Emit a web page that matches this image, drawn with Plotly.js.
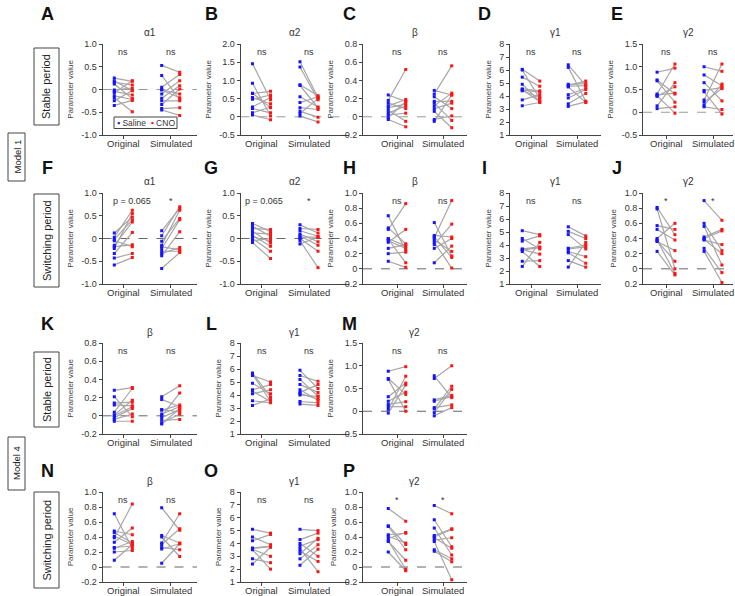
<!DOCTYPE html>
<html>
<head>
<meta charset="utf-8">
<script src="https://cdn.plot.ly/plotly-3.0.1.min.js"></script>
<style>
  body { margin: 0; background: #fff; }
  #chart { width: 735px; height: 596px; }
</style>
</head>
<body>
<div id="chart"></div>
<script>
// pary [saline, CNO] dla kazdego zwierzecia
const A_orig = [[0.25, 0.18], [0.19, -0.03], [0.16, 0.10], [0.12, -0.20], [-0.01, 0.03], [-0.04, -0.12], [-0.07, 0.19], [-0.14, -0.22], [-0.18, -0.49], [-0.25, -0.02], [-0.35, -0.24]];
const A_sim = [[0.53, 0.38], [0.31, -0.22], [0.05, 0.33], [-0.01, -0.18], [-0.10, 0.19], [-0.19, 0.08], [-0.25, -0.25], [-0.33, 0.01], [-0.42, -0.40], [-0.45, -0.57], [0.0, -0.10]];
const B_orig = [[1.46, 0.47], [0.92, 0.02], [0.64, 0.70], [0.53, 0.36], [0.48, 0.60], [0.27, 0.53], [0.23, 0.11], [0.11, 0.27], [0.05, -0.08], [0.65, 0.25]];
const B_sim = [[1.51, 0.53], [1.37, 0.47], [0.88, 0.58], [0.86, 0.25], [0.39, 0.55], [0.25, 0.20], [0.09, 0.50], [0.02, -0.14], [0.15, -0.01], [0.55, 0.27]];
const C_orig = [[0.24, 0.17], [0.18, 0.52], [0.15, 0.09], [0.12, 0.19], [0.10, 0.14], [0.07, -0.05], [0.04, 0.12], [0.02, 0.04], [-0.01, 0.17], [-0.03, -0.11]];
const C_sim = [[0.29, 0.24], [0.25, 0.56], [0.22, 0.09], [0.17, 0.17], [0.15, -0.04], [0.12, 0.26], [0.09, 0.15], [0.06, -0.12], [-0.03, 0.01], [-0.05, 0.24]];
const D_orig = [[6.05, 5.15], [6.0, 3.8], [5.45, 4.75], [4.9, 3.6], [4.55, 4.4], [4.45, 4.3], [4.4, 3.9], [3.7, 4.1], [3.25, 3.5], [4.5, 3.55]];
const D_sim = [[6.4, 4.8], [6.2, 3.6], [4.9, 4.95], [4.8, 5.15], [4.7, 3.5], [4.1, 4.6], [3.85, 4.5], [3.4, 4.2], [3.2, 3.55], [4.75, 4.8]];
const E_orig = [[0.88, 0.97], [0.71, 0.40], [0.69, 0.22], [0.40, 1.06], [0.38, 0.42], [0.35, 0.56], [0.14, 0.65], [0.08, 0.12], [0.36, -0.02]];
const E_sim = [[1.0, 0.90], [0.82, 0.58], [0.65, 0.25], [0.48, 0.54], [0.45, -0.04], [0.27, 1.06], [0.22, 0.52], [0.15, 0.62], [0.12, 0.06]];
const F_orig = [[0.12, 0.47], [0.03, 0.62], [-0.02, 0.41], [-0.05, -0.18], [-0.15, 0.36], [-0.18, -0.14], [-0.22, 0.55], [-0.33, 0.13], [-0.43, -0.33], [-0.58, -0.42]];
const F_sim = [[0.17, 0.66], [0.06, 0.70], [-0.06, 0.44], [-0.15, 0.62], [-0.18, -0.25], [-0.22, 0.41], [-0.28, -0.28], [-0.33, -0.20], [-0.38, 0.15], [-0.66, -0.31]];
const G_orig = [[0.33, 0.15], [0.27, 0.05], [0.22, 0.20], [0.16, -0.10], [0.12, 0.10], [0.07, -0.17], [0.03, -0.05], [0.0, -0.28], [-0.05, 0.0], [-0.09, -0.44]];
const G_sim = [[0.30, 0.12], [0.22, 0.20], [0.17, 0.05], [0.10, -0.07], [0.06, -0.15], [0.03, 0.03], [0.0, -0.28], [-0.05, -0.64], [-0.12, 0.03]];
const H_orig = [[0.70, 0.24], [0.54, 0.33], [0.52, 0.86], [0.39, 0.08], [0.37, 0.27], [0.35, 0.52], [0.27, 0.32], [0.20, 0.22], [0.10, 0.02], [0.40, 0.30]];
const H_sim = [[0.61, 0.17], [0.44, 0.42], [0.41, 0.90], [0.38, 0.23], [0.32, 0.59], [0.27, 0.40], [0.08, 0.30], [0.35, 0.01], [0.42, 0.15]];
const I_orig = [[5.1, 4.8], [4.5, 3.7], [4.3, 4.7], [3.7, 3.85], [3.6, 3.8], [3.5, 2.35], [2.75, 2.8], [2.35, 4.2], [3.65, 3.3]];
const I_sim = [[5.4, 4.7], [5.05, 4.5], [4.8, 3.7], [3.75, 4.0], [3.7, 3.85], [3.4, 2.6], [2.8, 2.3], [2.3, 4.2], [3.5, 3.1]];
const J_orig = [[0.81, 0.45], [0.79, 0.0], [0.57, 0.52], [0.52, 0.38], [0.40, 0.60], [0.38, -0.06], [0.36, 0.24], [0.23, -0.08], [0.37, 0.10]];
const J_sim = [[0.90, 0.64], [0.60, 0.24], [0.56, 0.05], [0.42, 0.52], [0.40, 0.50], [0.38, 0.32], [0.27, -0.05], [0.23, -0.18], [0.39, 0.20]];
const K_orig = [[0.28, 0.31], [0.21, -0.01], [0.14, 0.15], [0.12, 0.11], [0.04, 0.30], [0.01, 0.17], [-0.02, 0.08], [-0.04, 0.02], [-0.06, -0.06], [0.0, 0.10]];
const K_sim = [[0.21, 0.33], [0.18, 0.10], [0.07, 0.04], [0.06, 0.12], [0.0, 0.25], [-0.02, 0.07], [-0.05, -0.04], [-0.08, 0.02], [-0.09, 0.08], [0.02, 0.10]];
const L_orig = [[5.7, 3.85], [5.5, 5.0], [4.9, 4.1], [4.4, 4.8], [4.3, 3.5], [4.1, 4.4], [3.55, 3.4], [3.2, 3.7], [5.6, 3.5]];
const L_sim = [[5.9, 4.5], [5.5, 5.05], [5.2, 3.9], [4.8, 4.2], [4.4, 3.6], [4.2, 4.8], [4.1, 3.7], [3.5, 3.4], [3.3, 3.2], [4.0, 3.9]];
const M_orig = [[0.88, 0.98], [0.72, 0.37], [0.70, 0.0], [0.32, 0.62], [0.22, 0.42], [0.15, 0.21], [0.10, 0.10], [0.04, 0.77], [-0.04, 0.58]];
const M_sim = [[0.78, 0.30], [0.72, 1.0], [0.25, 0.35], [0.22, 0.32], [0.08, 0.14], [0.05, 0.55], [-0.03, 0.48], [-0.10, 0.08]];
const N_orig = [[0.71, 0.25], [0.48, 0.43], [0.46, 0.32], [0.41, 0.30], [0.39, 0.84], [0.33, 0.52], [0.26, 0.28], [0.25, 0.34], [0.20, 0.22], [0.09, 0.30]];
const N_sim = [[0.79, 0.49], [0.42, 0.32], [0.40, 0.14], [0.32, 0.71], [0.30, 0.51], [0.26, 0.23], [0.24, 0.31], [0.05, 0.31]];
const O_orig = [[5.1, 4.8], [4.5, 3.9], [4.2, 4.7], [3.65, 3.8], [3.6, 3.75], [3.5, 2.0], [2.8, 2.5], [2.4, 3.7], [3.55, 3.0]];
const O_sim = [[5.1, 5.0], [4.3, 4.8], [4.0, 3.0], [3.8, 4.3], [3.6, 1.8], [3.2, 4.4], [2.8, 3.9], [2.3, 3.55], [3.4, 2.6]];
const P_orig = [[0.78, 0.61], [0.55, 0.30], [0.54, 0.23], [0.43, 0.45], [0.41, 0.32], [0.38, 0.46], [0.35, -0.03], [0.34, 0.09], [0.20, -0.05]];
const P_sim = [[0.82, 0.71], [0.63, 0.27], [0.52, 0.16], [0.42, 0.51], [0.40, 0.50], [0.36, 0.39], [0.34, -0.17], [0.23, 0.11], [0.21, 0.07], [0.39, 0.25]];

const groups = ['Original', 'Simulated'];

// wartosci i etykiety osi Y
const tkA1 = [-1, -0.5, 0, 0.5, 1];
const lbA1 = ['-1.0', '-0.5', '0', '0.5', '1.0'];
const tkA2 = [-0.5, 0, 0.5, 1, 1.5, 2];
const lbA2 = ['-0.5', '0', '0.5', '1.0', '1.5', '2.0'];
const tkB8 = [-0.2, 0, 0.2, 0.4, 0.6, 0.8];
const lbB8 = ['-0.2', '0', '0.2', '0.4', '0.6', '0.8'];
const tkB10 = [-0.2, 0, 0.2, 0.4, 0.6, 0.8, 1.0];
const lbB10 = ['-0.2', '0', '0.2', '0.4', '0.6', '0.8', '1.0'];
const lbG2sw = ['0.2', '0', '0.2', '0.4', '0.6', '0.8', '1.0'];
const tkG1 = [1, 2, 3, 4, 5, 6, 7, 8];
const lbG1 = ['1', '2', '3', '4', '5', '6', '7', '8'];
const tkG2 = [-0.5, 0, 0.5, 1, 1.5];
const lbG2 = ['-0.5', '0', '0.5', '1.0', '1.5'];

const panels = [
  { id: 'A', row: 0, col: 0, title: 'α1', orig: A_orig, sim: A_sim, tv: tkA1, tt: lbA1, marks: ['ns', 'ns'] },
  { id: 'B', row: 0, col: 1, title: 'α2', orig: B_orig, sim: B_sim, tv: tkA2, tt: lbA2, marks: ['ns', 'ns'] },
  { id: 'C', row: 0, col: 2, title: 'β', orig: C_orig, sim: C_sim, tv: tkB8, tt: lbB8, marks: ['ns', 'ns'] },
  { id: 'D', row: 0, col: 3, title: 'γ1', orig: D_orig, sim: D_sim, tv: tkG1, tt: lbG1, marks: ['ns', 'ns'] },
  { id: 'E', row: 0, col: 4, title: 'γ2', orig: E_orig, sim: E_sim, tv: tkG2, tt: lbG2, marks: ['ns', 'ns'] },
  { id: 'F', row: 1, col: 0, title: 'α1', orig: F_orig, sim: F_sim, tv: tkA1, tt: lbA1, marks: ['p = 0.065', '*'], pOff: 0.18 },
  { id: 'G', row: 1, col: 1, title: 'α2', orig: G_orig, sim: G_sim, tv: tkA1, tt: lbA1, marks: ['p = 0.065', '*'], pOff: 0.06 },
  { id: 'H', row: 1, col: 2, title: 'β', orig: H_orig, sim: H_sim, tv: tkB10, tt: lbB10, marks: ['ns', 'ns'] },
  { id: 'I', row: 1, col: 3, title: 'γ1', orig: I_orig, sim: I_sim, tv: tkG1, tt: lbG1, marks: ['ns', 'ns'] },
  { id: 'J', row: 1, col: 4, title: 'γ2', orig: J_orig, sim: J_sim, tv: tkB10, tt: lbG2sw, marks: ['*', '*'] },
  { id: 'K', row: 2, col: 0, title: 'β', orig: K_orig, sim: K_sim, tv: tkB8, tt: lbB8, marks: ['ns', 'ns'] },
  { id: 'L', row: 2, col: 1, title: 'γ1', orig: L_orig, sim: L_sim, tv: tkG1, tt: lbG1, marks: ['ns', 'ns'] },
  { id: 'M', row: 2, col: 2, title: 'γ2', orig: M_orig, sim: M_sim, tv: tkG2, tt: lbG2, marks: ['ns', 'ns'] },
  { id: 'N', row: 3, col: 0, title: 'β', orig: N_orig, sim: N_sim, tv: tkB10, tt: lbB10, marks: ['ns', 'ns'] },
  { id: 'O', row: 3, col: 1, title: 'γ1', orig: O_orig, sim: O_sim, tv: tkG1, tt: lbG1, marks: ['ns', 'ns'] },
  { id: 'P', row: 3, col: 2, title: 'γ2', orig: P_orig, sim: P_sim, tv: tkB10, tt: lbG2sw, marks: ['*', '*'] }
];

// uklad w pikselach
const W = 735, H = 596;
const cols = [
  { l: 102.5, r: 197, o: 123.3, s: 170.7, lx: 47 },
  { l: 240.5, r: 349, o: 261.5, s: 309, lx: 211 },
  { l: 363, r: 467, o: 397, s: 443, lx: 349 },
  { l: 510, r: 601, o: 531, s: 577, lx: 485 },
  { l: 643, r: 733, o: 666, s: 713, lx: 617 }
];
const rows = [
  { t: 44, b: 135, ly: 14 },
  { t: 193, b: 284, ly: 168 },
  { t: 343, b: 434, ly: 324 },
  { t: 492, b: 582, ly: 471 }
];
const off = 0.19;
const font = 'Liberation Sans, Arial, sans-serif';

const data = [];
const layout = {
  width: W, height: H,
  margin: { t: 0, r: 0, b: 0, l: 0 },
  paper_bgcolor: '#fff', plot_bgcolor: '#fff',
  font: { family: font, size: 9, color: '#333' },
  showlegend: false,
  shapes: [], annotations: []
};

function note(o) {
  layout.annotations.push(Object.assign({ showarrow: false, xanchor: 'center', yanchor: 'middle' }, o));
}

panels.forEach((p, i) => {
  const n = i + 1;
  const sfx = n === 1 ? '' : String(n);
  const xa = 'x' + sfx, ya = 'y' + sfx;
  const c = cols[p.col], r = rows[p.row];
  const u = c.s - c.o;
  const xr = [(c.l - c.o) / u, (c.r - c.o) / u];
  const yr = [p.tv[0], p.tv[p.tv.length - 1]];

  // linie laczace saline -> CNO
  const lx = [], ly = [], bx = [], by = [], rx = [], ry = [];
  [p.orig, p.sim].forEach((grp, g) => {
    grp.forEach(([s, cno]) => {
      lx.push(g - off, g + off, null); ly.push(s, cno, null);
      bx.push(g - off); by.push(s);
      rx.push(g + off); ry.push(cno);
    });
  });
  data.push({ x: lx, y: ly, xaxis: xa, yaxis: ya, mode: 'lines', line: { color: '#a6a6a6', width: 1.2 }, hoverinfo: 'skip' });
  data.push({ x: bx, y: by, xaxis: xa, yaxis: ya, mode: 'markers', name: 'Saline', marker: { color: '#1414ff', size: 3, symbol: 'square' } });
  data.push({ x: rx, y: ry, xaxis: xa, yaxis: ya, mode: 'markers', name: 'CNO', marker: { color: '#ff1414', size: 3, symbol: 'square' } });

  layout['xaxis' + sfx] = {
    domain: [c.l / W, c.r / W], range: xr, anchor: ya,
    showline: true, linecolor: '#444', linewidth: 1, showgrid: false, zeroline: false,
    ticks: 'outside', ticklen: 3, tickcolor: '#444',
    tickvals: [0, 1], showticklabels: false
  };
  layout['yaxis' + sfx] = {
    domain: [1 - r.b / H, 1 - r.t / H], range: yr, anchor: xa,
    showline: true, linecolor: '#444', linewidth: 1, showgrid: false, zeroline: false,
    ticks: 'outside', ticklen: 3, tickcolor: '#444',
    tickvals: p.tv, ticktext: p.tt, tickfont: { size: 9, color: '#333' },
    title: { text: 'Parameter value', font: { size: 8, color: '#444' }, standoff: 6 }
  };

  if (yr[0] < 0) {
    layout.shapes.push({
      type: 'line', layer: 'below', xref: xa + ' domain', yref: ya,
      x0: 0, x1: 1, y0: 0, y1: 0,
      line: { color: p.row === 0 ? '#9a9a9a' : '#666', width: 1, dash: 'dash' }
    });
  }

  // etykiety grup na osi X
  groups.forEach((gname, g) => {
    note({ xref: xa, yref: ya + ' domain', x: g, y: 0, yshift: -8, text: gname, font: { size: 9.5, color: '#333' } });
  });

  // tytul panelu, litera i oznaczenia istotnosci
  note({ xref: 'paper', yref: 'paper', x: (c.l + c.r) / 2 / W, y: 1 - (r.t - 11) / H, text: p.title, font: { size: 10, color: '#333' } });
  note({ xref: 'paper', yref: 'paper', x: c.lx / W, y: 1 - r.ly / H, text: '<b>' + p.id + '</b>', font: { size: 18, color: '#111' } });
  p.marks.forEach((m, g) => {
    note({ xref: xa, yref: ya + ' domain', x: g + (m.startsWith('p') ? p.pOff : 0), y: 1, yshift: -8, text: m, font: { size: 9, color: '#333' } });
  });
});

// legenda w panelu A
layout.shapes.push({ type: 'rect', xref: 'paper', yref: 'paper', x0: 114 / W, x1: 177 / W, y0: 1 - 128.5 / H, y1: 1 - 117 / H, line: { color: '#444', width: 1 }, fillcolor: '#fff' });
note({
  xref: 'paper', yref: 'paper', x: 145.5 / W, y: 1 - 122.8 / H,
  text: '<span style="color:#1414ff">▪</span> Saline  <span style="color:#ff1414">▪</span> CNO',
  font: { size: 8.5, color: '#333' }
});

// etykiety okresow i modeli
const sideBoxes = [
  { x0: 34, x1: 59, y0: 48, y1: 125, text: 'Stable period', size: 11 },
  { x0: 34, x1: 59, y0: 194, y1: 287, text: 'Switching period', size: 11 },
  { x0: 34, x1: 59, y0: 352, y1: 427, text: 'Stable period', size: 11 },
  { x0: 34, x1: 59, y0: 492, y1: 588, text: 'Switching period', size: 11 },
  { x0: 8, x1: 25, y0: 133, y1: 181, text: 'Model 1', size: 9.5 },
  { x0: 8, x1: 25, y0: 437, y1: 490, text: 'Model 4', size: 9.5 }
];
sideBoxes.forEach(b => {
  layout.shapes.push({ type: 'rect', xref: 'paper', yref: 'paper', x0: b.x0 / W, x1: b.x1 / W, y0: 1 - b.y1 / H, y1: 1 - b.y0 / H, line: { color: '#444', width: 1 } });
  note({ xref: 'paper', yref: 'paper', x: (b.x0 + b.x1) / 2 / W, y: 1 - (b.y0 + b.y1) / 2 / H, text: b.text, textangle: -90, font: { size: b.size, color: '#222' } });
});

Plotly.newPlot('chart', data, layout, { staticPlot: true });
</script>
</body>
</html>
